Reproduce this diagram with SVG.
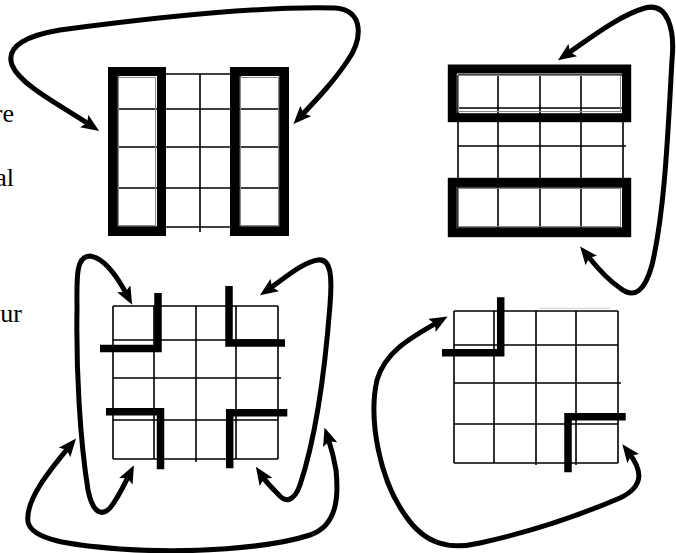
<svg xmlns="http://www.w3.org/2000/svg" width="676" height="553" viewBox="0 0 676 553">
<style>
.grid{fill:none;stroke:#000;stroke-width:1.6}
.thick{fill:none;stroke:#000;stroke-width:9;stroke-linejoin:miter}
.inner{fill:none;stroke:#888;stroke-width:1}
.ell{fill:none;stroke:#000;stroke-width:7.5;stroke-linecap:butt;stroke-linejoin:miter}
.arc{fill:none;stroke:#000;stroke-width:5;stroke-linecap:round;marker-start:url(#ah);marker-end:url(#ah)}
.txt{font-family:"Liberation Serif","Times New Roman",serif;font-size:26px;fill:#000}
</style>
<defs>
<marker id="ah" viewBox="0 0 18 15" markerUnits="userSpaceOnUse" markerWidth="18" markerHeight="15" refX="7" refY="7.5" orient="auto-start-reverse">
<path d="M0,0 L18,7.5 L0,15 L3.5,7.5 z" fill="#000"/>
</marker>
</defs>
<rect width="676" height="553" fill="#fff"/>
<g id="text">
<text class="txt" x="14" y="122" text-anchor="end">re</text>
<text class="txt" x="14" y="186" text-anchor="end">al</text>
<text class="txt" x="22" y="322" text-anchor="end">ur</text>
</g>
<g id="grid-columns">
<path class="grid" d="M118,74 H280 M118,109 H280 M118,147 H280 M118,188 H280 M118,227 H280 M118,74 V227 M159,74 V227 M200,74 V232 M240,74 V227 M280,74 V227"/>
<rect class="thick" x="112.5" y="71.5" width="49" height="160"/>
<rect class="thick" x="234.5" y="71.5" width="50" height="160"/>
<rect class="inner" x="118.5" y="77.5" width="37" height="148"/>
<rect class="inner" x="240.5" y="77.5" width="38" height="148"/>
</g>
<g id="grid-rows">
<path class="grid" d="M458,75 H623 M458,108 H623 M458,146 H626 M458,187 H623 M458,228 H623 M458,75 V228 M498,75 V228 M540,75 V228 M581,75 V228 M623,75 V228"/>
<rect class="thick" x="452.3" y="69" width="174.4" height="48.7"/>
<rect class="thick" x="452.3" y="182.3" width="174.4" height="50.4"/>
<rect class="inner" x="458.5" y="75.5" width="162" height="36"/>
<rect class="inner" x="458.5" y="188.5" width="162" height="38"/>
</g>
<g id="grid-corners4">
<path class="grid" d="M113,306 H278 M113,340 H278 M113,378 H281 M113,420 H278 M113,459 H278 M113,306 V459 M154,306 V459 M196,306 V462 M236,306 V459 M278,306 V459"/>
<path class="ell" d="M158,293 V348.5 H100"/>
<path class="ell" d="M229,286 V343 H285"/>
<path class="ell" d="M106,411.7 H160.5 V469.3"/>
<path class="ell" d="M287.3,412.7 H229.7 V468.3"/>
</g>
<g id="grid-corners2">
<path class="grid" d="M454,311 H618 M454,345 H618 M454,383 H621 M454,424 H618 M454,463 H618 M454,311 V463 M494,311 V463 M536,311 V465 M576,311 V465 M618,311 V463"/>
<path class="ell" d="M500.7,297.3 V352.7 H442"/>
<path class="ell" d="M625.7,416.7 H568 V472.3"/>
<line x1="540" y1="308.3" x2="610" y2="308.3" stroke="#ccc" stroke-width="1"/>
</g>
<g id="connectors">
<path class="arc" d="M90,125 C60,105 20,85 12,65 C5,45 30,35 60,30 C150,18 260,6 335,8 C365,10 362,40 348,60 C335,80 318,98 301,116"/>
<path class="arc" d="M567,54 C590,38 620,15 645,8 C668,2 675,30 672,60 C668,130 665,210 652,265 C645,290 635,300 620,288 C605,278 595,265 587,255"/>
<path class="arc" d="M127,295 C118,278 105,258 90,256 C75,256 77,280 77,310 C76,370 80,440 88,490 C92,510 100,518 110,508 C118,498 124,485 129,475"/>
<path class="arc" d="M269,289 C285,278 303,262 318,260 C332,258 332,280 330,305 C325,370 315,440 300,485 C294,502 285,503 278,494 C272,488 266,482 262,476"/>
<path class="arc" d="M69,447 C50,470 25,500 28,522 C32,540 70,545 120,549 C190,554 270,548 310,535 C340,525 338,490 336,470 C334,458 331,447 328,438"/>
<path class="arc" d="M438,322 C410,338 385,352 377,380 C368,420 380,480 405,515 C425,545 450,550 480,543 C530,532 580,515 620,498 C645,486 642,470 629,453"/>
</g>
</svg>
